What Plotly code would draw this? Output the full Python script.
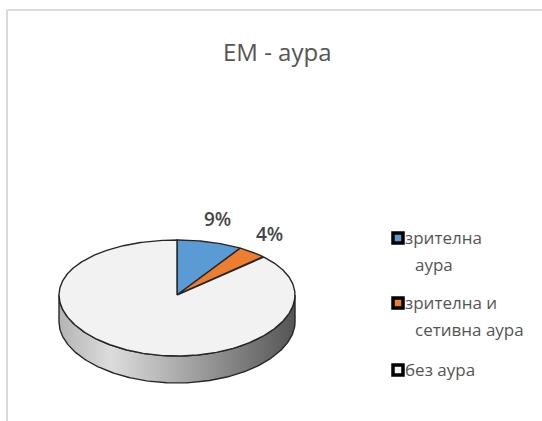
import numpy as np
import plotly.graph_objects as go

# --- data ---------------------------------------------------------------
categories = ["зрителна аура", "зрителна и сетивна аура", "без аура"]
legend_lines = [["зрителна", "аура"], ["зрителна и", "сетивна аура"], ["без аура"]]
values = [9, 4, 87]
colors = ["#5b9bd5", "#ed7d31", "#f2f2f2"]
labelled = [True, True, False]
title_text = "EM - аура"

# --- geometry of the tilted pie (drawing units = pixels) ----------------
W, H = 542, 421
CX, CY = 177, 295          # apex of the pie
RX, RY = 118, 58           # semi-axes of the top face
PERSP = 3                  # back edge slightly flatter than the front edge
DEPTH = 27                 # thickness of the disc
OUTLINE = "#262626"
TEXT = "#555555"
FONT = "Open Sans"


def rim(theta_deg, drop=0.0):
    t = np.radians(theta_deg)
    x = CX + RX * np.sin(t)
    y = CY - (RY - PERSP * np.cos(t)) * np.cos(t) + drop
    return x, y


fig = go.Figure()

# side wall of the disc (front half only)
th = np.linspace(90, 270, 181)
xt, yt = rim(th)
xb, yb = rim(th[::-1], DEPTH)
fig.add_trace(go.Scatter(
    x=np.concatenate([xt, xb, xt[:1]]),
    y=np.concatenate([yt, yb, yt[:1]]),
    mode="lines", fill="toself",
    fillgradient=dict(type="horizontal", colorscale=[
        [0.0, "#b4b4b4"], [0.22, "#dcdcdc"], [0.55, "#a4a4a4"], [1.0, "#555555"]]),
    line=dict(color=OUTLINE, width=1.4),
    hoverinfo="skip", showlegend=False,
))

# top face slices, clockwise from 12 o'clock
total = float(sum(values))
start = 0.0
mids = []
for v, c in zip(values, colors):
    span = 360.0 * v / total
    a = np.linspace(start, start + span, max(int(span * 2), 2))
    ax, ay = rim(a)
    fig.add_trace(go.Scatter(
        x=np.concatenate([[CX], ax, [CX]]),
        y=np.concatenate([[CY], ay, [CY]]),
        mode="lines", fill="toself", fillcolor=c,
        line=dict(color=OUTLINE, width=1.4),
        name="", hoverinfo="skip", showlegend=False,
    ))
    mids.append(start + span / 2)
    start += span

# percentage labels just outside the rim
for v, m, show in zip(values, mids, labelled):
    if not show:
        continue
    t = np.radians(m)
    lx = CX + RX * 1.23 * np.sin(t)
    ly = CY - RY * 1.37 * np.cos(t)
    fig.add_annotation(x=lx, y=ly, text=f"{v}%", showarrow=False,
                       font=dict(family=FONT, size=19, color="#454545",
                                 weight=600))

# legend: swatches and wrapped labels
LEG_X = 398
LEG_Y = [238, 303, 370]
LINE_GAP = 27
for c, lines, y0 in zip(colors, legend_lines, LEG_Y):
    fig.add_trace(go.Scatter(
        x=[LEG_X], y=[y0], mode="markers",
        marker=dict(symbol="square", size=10, color=c,
                    line=dict(color="#000000", width=3.5)),
        hoverinfo="skip", showlegend=False,
    ))
    for i, ln in enumerate(lines):
        fig.add_annotation(x=LEG_X + 5 if i == 0 else LEG_X + 15,
                           y=y0 - 1 + i * LINE_GAP, text=ln, showarrow=False,
                           xanchor="left", yanchor="middle",
                           font=dict(family=FONT, size=17, color=TEXT))

# chart frame (top and left edges visible)
fig.add_shape(type="line", xref="x", yref="y", x0=7, y0=10, x1=W, y1=10,
              line=dict(color="#d9d9d9", width=2))
fig.add_shape(type="line", xref="x", yref="y", x0=7, y0=10, x1=7, y1=H,
              line=dict(color="#d9d9d9", width=2))

fig.add_annotation(x=277, y=51, text=title_text, showarrow=False,
                   font=dict(family=FONT, size=24, color=TEXT))

fig.update_layout(
    width=W, height=H, autosize=False,
    margin=dict(l=0, r=0, t=0, b=0),
    paper_bgcolor="white", plot_bgcolor="white",
    xaxis=dict(range=[0, W], visible=False, fixedrange=True),
    yaxis=dict(range=[H, 0], visible=False, fixedrange=True),
    showlegend=False,
)

fig.write_html("out.html")
